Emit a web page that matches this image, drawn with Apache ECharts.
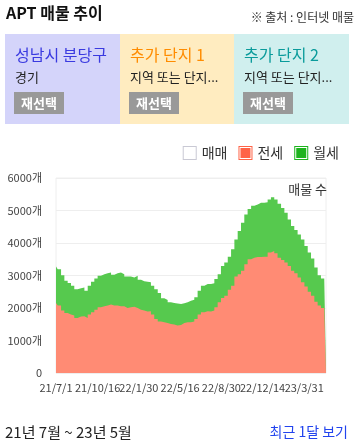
<!DOCTYPE html>
<html><head><meta charset="utf-8">
<script src="https://cdn.jsdelivr.net/npm/echarts@6/dist/echarts.min.js"></script>
<style>html,body{margin:0;padding:0;background:#fff}#c{width:358px;height:447px}</style>
</head><body><div id="c"></div>
<script>
// ---- data ----
const startDate = [2021, 6, 1];            // 21/7/1 = day 0
const lastDay = 694;                        // last sample day (~23/5/26)
const tickDays = [0, 107, 213, 319, 425, 531, 638]; // 21/7/1 ... 23/3/31
const jeonse = [2155,2075,1920,1850,1800,1770,1695,1735,1745,1695,1800,1870,1950,2020,2055,2075,2105,2075,2075,2055,2055,2000,2020,2035,2000,1950,1920,1890,1900,1800,1665,1585,1560,1540,1510,1490,1460,1480,1540,1560,1560,1585,1665,1800,1870,1900,1890,1920,2020,2175,2305,2380,2560,2685,2970,3040,3145,3350,3500,3550,3570,3570,3580,3580,3705,3755,3685,3550,3480,3400,3295,3145,3070,2940,2790,2665,2500,2380,2195,2075,2000,1970];
const wolse = [1125,1120,1090,990,970,915,885,875,885,835,885,940,960,970,985,995,985,945,995,1035,985,970,950,905,990,920,900,920,890,885,915,875,740,710,665,665,675,645,605,615,665,670,665,730,815,835,845,845,870,865,990,1020,1020,1120,1140,1330,1480,1530,1550,1600,1615,1665,1655,1675,1630,1655,1650,1655,1600,1530,1430,1375,1330,1325,1320,1245,1205,1140,1050,935,910,920];
const maemae = [];
const seriesNames = ['매매', '전세', '월세'];

const step = lastDay / (jeonse.length - 1);
const days = jeonse.map((_, i) => Math.round(i * step));
const pair = arr => arr.map((v, i) => [days[i], v]);
// stacked: 월세 sits on top of 전세
const wolseTop = wolse.map((v, i) => v + jeonse[i]);

function dayLabel(d) {
  if (d >= lastDay) return '';
  const dt = new Date(startDate[0], startDate[1], startDate[2] + Math.round(d));
  return String(dt.getFullYear()).slice(2) + '/' + (dt.getMonth() + 1) + '/' + dt.getDate();
}

const FF = '"Noto Sans CJK KR", "Noto Sans", sans-serif';
const chart = echarts.init(document.getElementById('c'), null, {renderer: 'canvas'});

const ring = 'path://M0,0H14V14H0Z M1,1V13H13V1H1Z';
const ringFill = 'path://M0,0H14V14H0Z M1,1V13H13V1H1Z M2,2H12V12H2Z';

function panel(x, w, bg, title, tcolor, sub) {
  return [
    {type: 'rect', shape: {x: x, y: 34, width: w, height: 90}, style: {fill: bg}, silent: true},
    {type: 'text', x: x + 10, y: 47, style: {text: title, fill: tcolor, font: '16px ' + FF, textVerticalAlign: 'top'}},
    {type: 'text', x: x + 10, y: 71, style: {text: sub, fill: '#222', font: '13px ' + FF, textVerticalAlign: 'top'}},
    {type: 'rect', shape: {x: x + 9, y: 92, width: 50, height: 22}, style: {fill: '#999'}},
    {type: 'text', x: x + 34, y: 103, style: {text: '재선택', fill: '#fff', font: 'bold 13px ' + FF, align: 'center', verticalAlign: 'middle'}}
  ];
}

const option = {
  animation: false,
  textStyle: {fontFamily: FF},
  legend: {
    right: 14, top: 141, itemWidth: 14, itemHeight: 14, itemGap: 11,
    textStyle: {fontSize: 14, color: '#333', fontFamily: FF},
    data: [
      {name: '매매', icon: ring, itemStyle: {color: '#c9c9d4'}},
      {name: '전세', icon: ringFill, itemStyle: {color: '#ff6347'}},
      {name: '월세', icon: ringFill, itemStyle: {color: '#1db31d'}}
    ]
  },
  grid: {left: 56, right: 32, top: 178, bottom: 74, show: true, borderColor: '#eee', borderWidth: 1},
  xAxis: {
    type: 'value', min: 0, max: lastDay,
    axisLine: {show: false}, axisTick: {show: false}, splitLine: {show: false},
    axisLabel: {customValues: tickDays.concat([lastDay]), formatter: v => dayLabel(v), showMinLabel: true, showMaxLabel: false,
                color: '#444', fontSize: 11, margin: 9, fontFamily: FF}
  },
  yAxis: {
    type: 'value', min: 0, max: 6000, interval: 1000,
    axisLine: {show: false}, axisTick: {show: false},
    splitLine: {lineStyle: {color: '#eee'}},
    axisLabel: {formatter: v => v === 0 ? '0' : v + '개', color: '#444', fontSize: 11, margin: 14, fontFamily: FF}
  },
  series: [
    {name: seriesNames[2], type: 'line', step: 'middle', symbol: 'none', data: pair(wolseTop),
     lineStyle: {width: 0}, areaStyle: {color: '#56c94e', opacity: 1}, itemStyle: {color: '#1db31d'}},
    {name: seriesNames[1], type: 'line', step: 'middle', symbol: 'none', data: pair(jeonse),
     lineStyle: {width: 0}, areaStyle: {color: '#ff8b74', opacity: 1}, itemStyle: {color: '#ff6347'}},
    {name: seriesNames[0], type: 'line', symbol: 'none', data: pair(maemae),
     lineStyle: {width: 0}, itemStyle: {color: '#c9c9d4'}}
  ],
  graphic: [
    {type: 'text', x: 6, y: 5, style: {text: 'APT 매물 추이', fill: '#111', font: 'bold 16px ' + FF, textVerticalAlign: 'top'}},
    {type: 'text', x: 354, y: 11, style: {text: '※ 출처 : 인터넷 매물', fill: '#333', font: '12px ' + FF, align: 'right', textVerticalAlign: 'top'}},
    ...panel(5, 115, '#d4d4fa', '성남시 분당구', '#3a3ae0', '경기'),
    ...panel(120, 114, '#ffecc0', '추가 단지 1', '#ff8c00', '지역 또는 단지...'),
    ...panel(234, 115, '#d0efee', '추가 단지 2', '#0a9b9b', '지역 또는 단지...'),
    {type: 'text', x: 327, y: 183, z: 10, style: {text: '매물 수', fill: '#333', font: '13px ' + FF, align: 'right', textVerticalAlign: 'top'}},
    {type: 'text', x: 5, y: 425, style: {text: '21년 7월 ~ 23년 5월', fill: '#222', font: '15px ' + FF, textVerticalAlign: 'top'}},
    {type: 'text', x: 348, y: 425, style: {text: '최근 1달 보기', fill: '#2244ee', font: '14px ' + FF, align: 'right', textVerticalAlign: 'top'}}
  ]
};
chart.setOption(option);
</script></body></html>
